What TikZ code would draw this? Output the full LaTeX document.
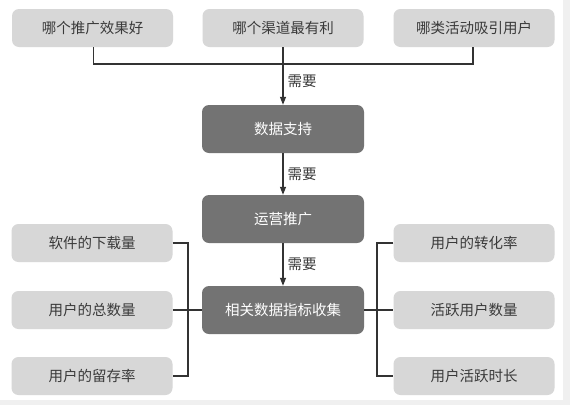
\documentclass[tikz,border=0pt]{standalone}
\usepackage{fontspec}
\setmainfont{Noto Sans CJK SC}
\usetikzlibrary{arrows.meta}
\definecolor{lightbox}{HTML}{D7D7D7}
\definecolor{darkbox}{HTML}{737373}
\definecolor{txt}{HTML}{3A3A3A}
\definecolor{frame}{HTML}{F0F0F0}
\definecolor{ln}{HTML}{333333}
\begin{document}
\begin{tikzpicture}[x=1pt,y=-1pt,
  lbox/.style={fill=lightbox,rounded corners=7pt,minimum width=161pt,minimum height=38pt,inner sep=0pt,text=txt,font=\fontsize{14.5}{16}\selectfont},
  dbox/.style={fill=darkbox,rounded corners=7pt,minimum width=162pt,minimum height=48pt,inner sep=0pt,text=white,font=\fontsize{14.5}{16}\selectfont},
  conn/.style={draw=ln,line width=1.2pt},
  arr/.style={conn,-{Triangle[length=8pt,width=6pt]}},
  lab/.style={text=txt,font=\fontsize{14.5}{16}\selectfont,anchor=west,inner sep=0pt}]
\fill[frame] (0,0) rectangle (570,405);
\fill[white] (0,0) rectangle (563,400);
% top row
\node[lbox] (t1) at (92.5,28) {哪个推广效果好};
\node[lbox] (t2) at (283,28) {哪个渠道最有利};
\node[lbox] (t3) at (474,28) {哪类活动吸引用户};
% main column
\node[dbox] (m1) at (283,129) {数据支持};
\node[dbox] (m2) at (283,219) {运营推广};
\node[dbox] (m3) at (283,310) {相关数据指标收集};
% left boxes
\node[lbox] (l1) at (92,243) {软件的下载量};
\node[lbox] (l2) at (92,310) {用户的总数量};
\node[lbox] (l3) at (92,376) {用户的留存率};
% right boxes
\node[lbox] (r1) at (474,243) {用户的转化率};
\node[lbox] (r2) at (474,310) {活跃用户数量};
\node[lbox] (r3) at (474,376) {用户活跃时长};
% top connectors
\coordinate (hl) at (93.5,64);
\coordinate (hr) at (473,64);
\draw[conn] (t1.south -| hl) -- (hl) -- (hr) -- (t3.south -| hr);
\draw[arr] (t2.south) -- (m1.north) node[lab,pos=0.6,xshift=4pt] {需要};
\draw[arr] (m1.south) -- (m2.north) node[lab,midway,xshift=4pt] {需要};
\draw[arr] (m2.south) -- (m3.north) node[lab,midway,xshift=4pt] {需要};
% left bracket
\coordinate (lb) at (188,0);
\draw[conn] (l1.east) -- (l1.east -| lb) -- (l3.east -| lb) -- (l3.east);
\draw[conn] (l2.east) -- (m3.west);
% right bracket
\coordinate (rb) at (377,0);
\draw[conn] (r1.west) -- (r1.west -| rb) -- (r3.west -| rb) -- (r3.west);
\draw[conn] (m3.east) -- (r2.west);
\end{tikzpicture}
\end{document}
